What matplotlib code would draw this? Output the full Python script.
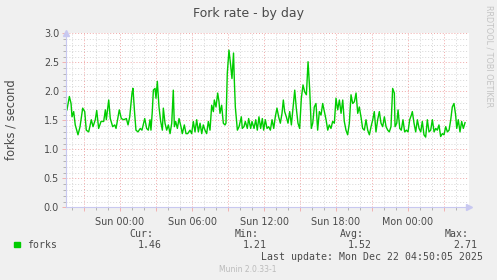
import matplotlib
matplotlib.use("Agg")
import matplotlib.pyplot as plt
import numpy as np

# hours relative to Sun 00:00
hours = [
    -4.42, -4.22, -4.08, -4.0, -3.86, -3.73, -3.5, -3.33, -3.11, -2.94,
    -2.81, -2.61, -2.39, -2.25, -2.06, -1.94, -1.78, -1.58, -1.36, -1.22,
    -1.14, -0.94, -0.81, -0.61, -0.44, -0.33, -0.06, 0.11, 0.31, 0.53,
    0.67, 0.81, 1.0, 1.08, 1.22, 1.33, 1.5, 1.69, 1.83, 2.06,
    2.22, 2.36, 2.5, 2.58, 2.69, 2.78, 2.92, 3.0, 3.11, 3.25,
    3.39, 3.53, 3.61, 3.75, 3.89, 4.03, 4.17, 4.31, 4.44, 4.53,
    4.64, 4.78, 4.92, 5.08, 5.19, 5.36, 5.5, 5.64, 5.83, 5.97,
    6.11, 6.25, 6.39, 6.53, 6.67, 6.81, 6.94, 7.08, 7.22, 7.36,
    7.5, 7.64, 7.78, 7.86, 8.0, 8.14, 8.25, 8.33, 8.47, 8.61,
    8.75, 8.83, 8.94, 9.08, 9.22, 9.33, 9.46, 9.53, 9.61, 9.78,
    9.92, 10.11, 10.19, 10.33, 10.44, 10.61, 10.72, 10.89, 11.0, 11.17,
    11.31, 11.44, 11.58, 11.72, 11.86, 11.97, 12.11, 12.25, 12.39, 12.53,
    12.67, 12.81, 12.94, 13.08, 13.22, 13.36, 13.5, 13.61, 13.72, 13.86,
    14.0, 14.14, 14.28, 14.42, 14.56, 14.69, 14.83, 14.97, 15.11, 15.25,
    15.39, 15.53, 15.67, 15.81, 15.94, 16.06, 16.19, 16.33, 16.47, 16.61,
    16.75, 16.89, 17.03, 17.17, 17.31, 17.44, 17.58, 17.72, 17.86, 18.0,
    18.14, 18.28, 18.42, 18.56, 18.69, 18.83, 18.97, 19.11, 19.25, 19.39,
    19.53, 19.67, 19.81, 19.94, 20.08, 20.22, 20.36, 20.5, 20.64, 20.78,
    20.92, 21.06, 21.19, 21.33, 21.47, 21.61, 21.75, 21.89, 22.03, 22.17,
    22.31, 22.44, 22.58, 22.72, 22.86, 22.92, 23.06, 23.17, 23.31, 23.44,
    23.58, 23.72, 23.86, 24.0, 24.14, 24.28, 24.36, 24.5, 24.64, 24.78,
    24.92, 25.06, 25.19, 25.33, 25.47, 25.61, 25.75, 25.89, 26.03, 26.17,
    26.31, 26.44, 26.58, 26.72, 26.86, 27.0, 27.14, 27.28, 27.42, 27.56,
    27.69, 27.83, 27.97, 28.06, 28.19, 28.33, 28.47, 28.61, 28.75,
]
forks = [
    1.68, 1.91, 1.79, 1.56, 1.65, 1.42, 1.25, 1.39, 1.71, 1.65,
    1.33, 1.30, 1.51, 1.39, 1.51, 1.67, 1.36, 1.48, 1.48, 1.68,
    1.51, 1.85, 1.53, 1.39, 1.42, 1.36, 1.68, 1.53, 1.51, 1.53,
    1.42, 1.56, 1.97, 2.05, 1.62, 1.33, 1.30, 1.36, 1.33, 1.53,
    1.36, 1.33, 1.51, 1.33, 1.65, 2.02, 2.05, 1.88, 2.17, 1.73,
    1.48, 1.33, 1.71, 1.45, 1.33, 1.42, 1.27, 1.45, 2.02, 1.39,
    1.48, 1.36, 1.53, 1.39, 1.27, 1.42, 1.27, 1.27, 1.33, 1.27,
    1.48, 1.30, 1.51, 1.30, 1.45, 1.27, 1.42, 1.33, 1.27, 1.48,
    1.33, 1.76, 1.65, 1.85, 1.73, 1.97, 1.82, 1.62, 1.76, 1.45,
    1.42, 1.45, 2.31, 2.71, 2.45, 2.22, 2.66, 2.17, 1.73, 1.33,
    1.39, 1.56, 1.36, 1.39, 1.48, 1.36, 1.53, 1.36, 1.48, 1.36,
    1.51, 1.33, 1.56, 1.36, 1.53, 1.33, 1.51, 1.36, 1.39, 1.33,
    1.51, 1.36, 1.56, 1.71, 1.56, 1.45, 1.62, 1.85, 1.65, 1.56,
    1.45, 1.65, 1.42, 1.73, 2.02, 1.71, 1.45, 1.36, 1.88, 2.11,
    1.99, 1.94, 2.51, 2.02, 1.36, 1.45, 1.73, 1.79, 1.33, 1.65,
    1.59, 1.79, 1.65, 1.51, 1.33, 1.42, 1.36, 1.48, 1.45, 1.88,
    1.68, 1.85, 1.62, 1.85, 1.48, 1.33, 1.25, 1.45, 1.94, 1.79,
    1.82, 1.97, 1.62, 1.73, 1.56, 1.36, 1.33, 1.51, 1.33, 1.25,
    1.39, 1.51, 1.65, 1.30, 1.51, 1.65, 1.45, 1.39, 1.56, 1.39,
    1.33, 1.30, 1.39, 2.05, 1.97, 1.39, 1.45, 1.68, 1.36, 1.33,
    1.51, 1.30, 1.33, 1.30, 1.51, 1.59, 1.65, 1.45, 1.30, 1.51,
    1.36, 1.30, 1.48, 1.25, 1.21, 1.51, 1.30, 1.33, 1.51, 1.30,
    1.36, 1.33, 1.42, 1.22, 1.27, 1.25, 1.39, 1.30, 1.33, 1.51,
    1.73, 1.79, 1.59, 1.36, 1.51, 1.30, 1.48, 1.36, 1.46,
]

grid_hours = [-3, 0, 3, 6, 9, 12, 15, 18, 21, 24, 27]
grid_labels = ["", "Sun 00:00", "", "Sun 06:00", "", "Sun 12:00", "",
               "Sun 18:00", "", "Mon 00:00", ""]

stat_names = ["Cur:", "Min:", "Avg:", "Max:"]
stat_values = ["1.46", "1.21", "1.52", "2.71"]

text_col = "#4a4a4a"
bg = "#f0f0f0"

fig = plt.figure(figsize=(4.97, 2.80), dpi=100, facecolor=bg)
ax = fig.add_axes([66 / 497, 1 - 207.3 / 280, 402.5 / 497, 174 / 280])
ax.set_facecolor("white")

ax.set_xlim(-4.5, 29.04)
ax.set_ylim(0, 3.0)

# grid like rrdtool: gray minor, red major
ax.set_xticks(grid_hours)
ax.set_xticklabels(grid_labels)
ax.set_xticks(np.arange(-4, 29), minor=True)
ax.set_yticks(np.arange(0, 3.01, 0.5))
ax.set_yticklabels([f"{v:.1f}" for v in np.arange(0, 3.01, 0.5)])
ax.set_yticks(np.arange(0, 3.01, 0.1), minor=True)
ax.grid(which="minor", color="#d6d6d6", linestyle=(0, (1, 2)), linewidth=0.7)
ax.grid(which="major", color="#f0a8a8", linestyle=(0, (1, 2)), linewidth=0.7)
ax.set_axisbelow(True)

ax.tick_params(which="both", direction="out", colors="#aaaaaa",
               labelcolor=text_col, labelsize=6.9, pad=2)
ax.tick_params(which="major", length=3, width=0.6, color="#f0a8a8")
ax.tick_params(which="minor", length=2, width=0.6)
ax.tick_params(axis="x", pad=4)

for s in ["top", "right"]:
    ax.spines[s].set_visible(False)
for s in ["left", "bottom"]:
    ax.spines[s].set_color("#c8c8f0")
    ax.spines[s].set_linewidth(0.8)

# axis arrows
ax.plot(1, 0, ">", transform=ax.transAxes, color="#c8c8f0", markersize=4,
        clip_on=False)
ax.plot(0, 1, "^", transform=ax.transAxes, color="#c8c8f0", markersize=4,
        clip_on=False)

ax.plot(hours, forks, color="#00cc00", linewidth=1.0)

fig.text(11.5 / 497, 1 - 120 / 280, "forks / second", rotation=90,
         ha="center", va="center", fontsize=8.3, color=text_col)

fig.text(0.5, 1 - 13 / 280, "Fork rate - by day", ha="center", va="center",
         fontsize=9, color=text_col)
fig.text(488.5 / 497, 1 - 56 / 280, "RRDTOOL / TOBI OETIKER", rotation=270,
         ha="center", va="center", fontsize=5.8, color="#c4c4c4")

# legend
mono = "DejaVu Sans Mono"
fig.patches.append(plt.Rectangle((14 / 497, 1 - 247 / 280), 6 / 497, 5 / 280,
                                 transform=fig.transFigure, color="#00cc00"))
fig.text(27 / 497, 1 - 245.3 / 280, "forks", family=mono, fontsize=7.1,
         color=text_col, va="center")
name_right = [153.3, 259, 364, 469]
val_right = [161.7, 267, 372, 477]
for n, v, xn, xv in zip(stat_names, stat_values, name_right, val_right):
    fig.text(xn / 497, 1 - 234 / 280, n, family=mono, fontsize=7.1,
             color=text_col, ha="right", va="center")
    fig.text(xv / 497, 1 - 245.3 / 280, v, family=mono, fontsize=7.1,
             color=text_col, ha="right", va="center")
fig.text(483 / 497, 1 - 257.3 / 280, "Last update: Mon Dec 22 04:50:05 2025",
         family=mono, fontsize=7.1, color=text_col, ha="right", va="center")
fig.text(248 / 497, 1 - 269 / 280, "Munin 2.0.33-1", fontsize=5.5,
         color="#bbbbbb", ha="center", va="center")

fig.savefig("out.png", dpi=100, facecolor=bg)
